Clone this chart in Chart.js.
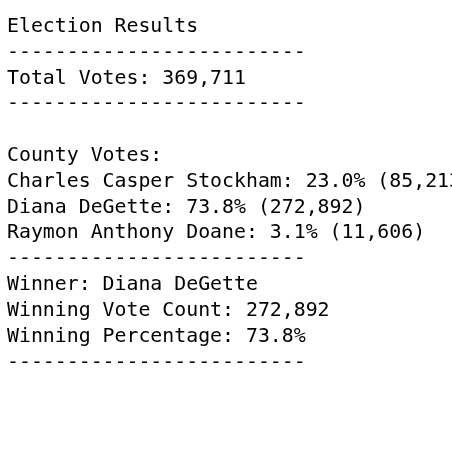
<!DOCTYPE html>
<html>
<head>
<meta charset="utf-8">
<script src="https://cdn.jsdelivr.net/npm/chart.js@4"></script>
<style>
  html, body { margin: 0; padding: 0; background: #ffffff; overflow: hidden; }
  canvas { display: block; }
</style>
</head>
<body>
<canvas id="c" width="452" height="466"></canvas>
<script>
const reportTitle = "Election Results";
const totalVotes = 369711;
const candidates = ["Charles Casper Stockham", "Diana DeGette", "Raymon Anthony Doane"];
const percentages = [23.0, 73.8, 3.1];
const votes = [85213, 272892, 11606];
const winner = "Diana DeGette";
const winnerVotes = 272892;
const winnerPct = 73.8;

const sep = "-------------------------";
const fmt = n => n.toLocaleString("en-US");

const lines = [
  reportTitle,
  sep,
  "Total Votes: " + fmt(totalVotes),
  sep,
  "",
  "County Votes:"
];
candidates.forEach((c, i) => {
  lines.push(c + ": " + percentages[i].toFixed(1) + "% (" + fmt(votes[i]) + ")");
});
lines.push(sep);
lines.push("Winner: " + winner);
lines.push("Winning Vote Count: " + fmt(winnerVotes));
lines.push("Winning Percentage: " + winnerPct.toFixed(1) + "%");
lines.push(sep);

new Chart(document.getElementById("c"), {
  type: "bar",
  data: { labels: [], datasets: [] },
  options: {
    responsive: false,
    devicePixelRatio: 1,
    animation: false,
    layout: { padding: { left: 7, top: 0, right: -200, bottom: 0 } },
    scales: { x: { display: false }, y: { display: false } },
    plugins: {
      legend: { display: false },
      tooltip: { enabled: false },
      title: {
        display: true,
        align: "start",
        text: lines,
        color: "#000000",
        font: { family: "'DejaVu Sans Mono', 'Liberation Mono', monospace", size: 19.85, weight: "normal", lineHeight: 1.3 },
        padding: { top: 14, bottom: 0 }
      }
    }
  }
});
</script>
</body>
</html>
